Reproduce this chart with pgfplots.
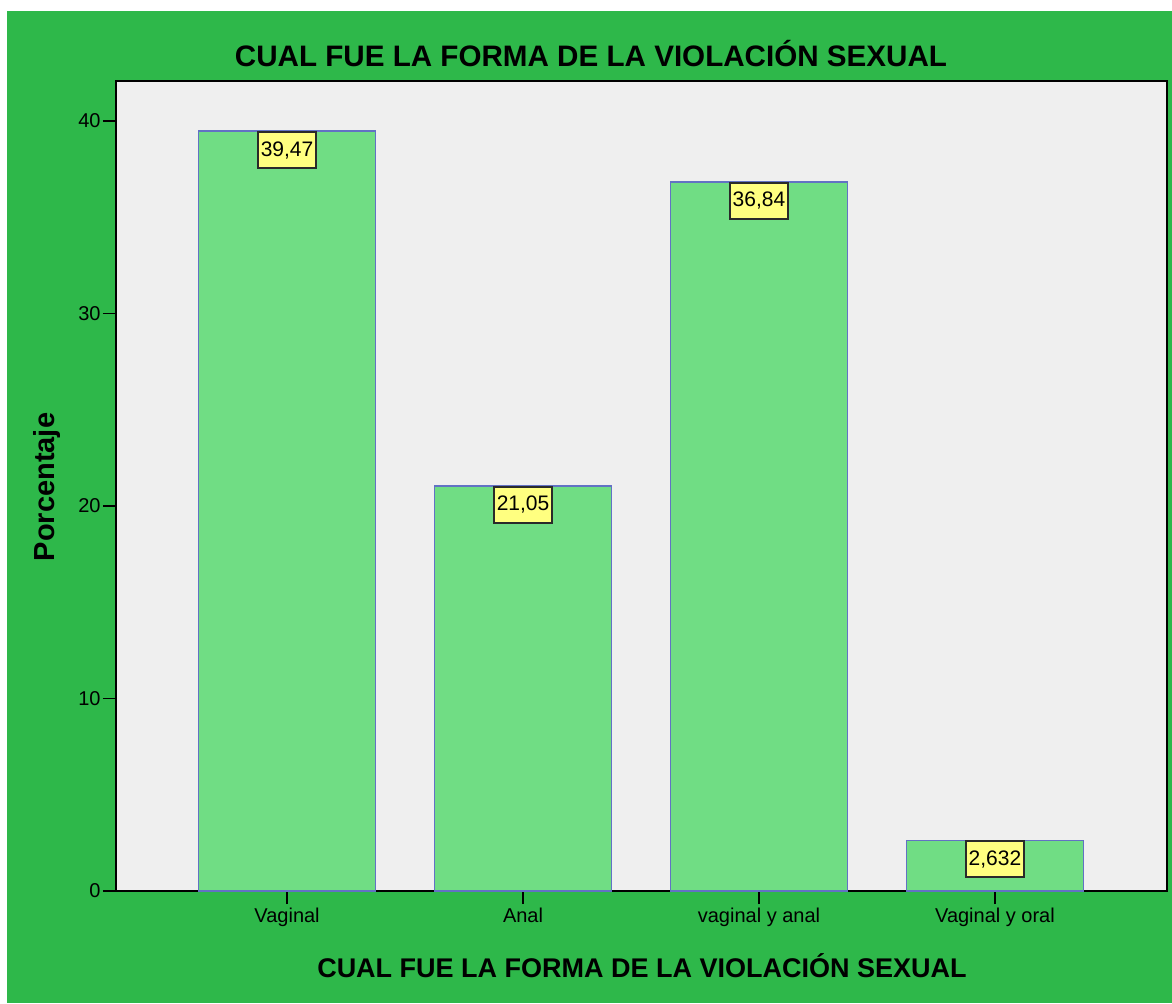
\documentclass[border=0pt]{standalone}
\usepackage{fontspec}
\setmainfont{Liberation Sans}
\usepackage{pgfplots}
\pgfplotsset{compat=1.18}
\definecolor{bggreen}{HTML}{2EB84A}
\definecolor{plotbg}{HTML}{EFEFEF}
\definecolor{barfill}{HTML}{70DD84}
\definecolor{baredge}{HTML}{6272C4}
\definecolor{labelyellow}{HTML}{FFFF80}
\definecolor{boxedge}{HTML}{2A2A2A}

\begin{document}
\begin{tikzpicture}
% page: 1172 x 1003 px at 0.5pt per px
\fill[white] (0,0) rectangle (586pt,501.5pt);
\fill[bggreen] (3.5pt,0) rectangle (586pt,496pt);
\begin{axis}[
  at={(58pt,56pt)}, anchor=south west,
  scale only axis, width=525.5pt, height=405pt,
  xmin=-0.725, xmax=3.729, ymin=0, ymax=42.08,
  axis background/.style={fill=plotbg},
  axis line style={black, line width=0.9pt},
  ybar, bar width=88.5pt,
  xtick={0,1,2,3},
  xticklabels={Vaginal, Anal, vaginal y anal, Vaginal y oral},
  ytick={0,10,20,30,40},
  tick align=outside, tick pos=left,
  major tick length=6.5pt,
  tick style={black, line width=0.9pt},
  /pgf/number format/assume math mode=true,
  ticklabel style={font=\fontsize{10}{12}\selectfont, text=black},
  yticklabel style={inner xsep=1pt},
  xticklabel style={inner ysep=2pt},
  nodes near coords,
  point meta=explicit symbolic,
  every node near coord/.append style={
    font=\fontsize{10.5}{12}\selectfont, text=black,
    anchor=north, yshift=0pt,
    fill=labelyellow, draw=boxedge, line width=0.9pt,
    inner xsep=1.5pt, minimum height=18pt
  }
]
\addplot[fill=barfill, draw=baredge, line width=0.8pt] coordinates {
  (0,39.47) [39,47]
  (1,21.05) [21,05]
  (2,36.84) [36,84]
  (3,2.632) [2,632]
};
\end{axis}
\node[font=\bfseries\fontsize{14.8}{17}\selectfont] at (295.5pt,474.5pt)
  {CUAL FUE LA FORMA DE LA VIOLACIÓN SEXUAL};
\node[font=\bfseries\fontsize{13.5}{16}\selectfont] at (321pt,18.5pt)
  {CUAL FUE LA FORMA DE LA VIOLACIÓN SEXUAL};
\node[font=\bfseries\fontsize{14.5}{17}\selectfont, rotate=90] at (23.5pt,258pt)
  {Porcentaje};
\pgfresetboundingbox
\path (0,0) rectangle (586pt,501.5pt);
\end{tikzpicture}
\end{document}
